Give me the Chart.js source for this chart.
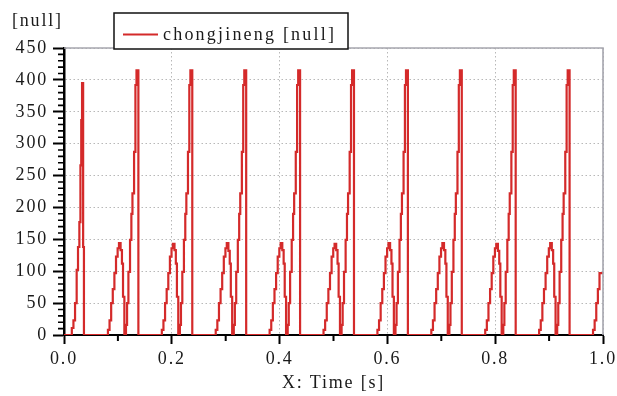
<!DOCTYPE html>
<html>
<head>
<meta charset="utf-8">
<script src="https://cdn.jsdelivr.net/npm/chart.js@4.4.0/dist/chart.umd.min.js"></script>
<style>
  html, body { margin: 0; padding: 0; background: #fff; }
</style>
</head>
<body>
<canvas id="myChart" width="617" height="396"></canvas>
<script>
// time axis [s]
const timeS = [
  0, 0.0145, 0.0175, 0.0205, 0.0235, 0.026, 0.0285, 0.0305, 0.032, 0.0335, 0.0355, 0.037,
  0.0815, 0.0845, 0.0875, 0.0905, 0.0935, 0.0965, 0.0995, 0.102, 0.105, 0.1075, 0.1095, 0.112,
  0.115, 0.117, 0.1195, 0.1225, 0.125, 0.127, 0.13, 0.1325, 0.1345, 0.138,
  0.1815, 0.1845, 0.1875, 0.1905, 0.1935, 0.1965, 0.1995, 0.202, 0.205, 0.2075, 0.2095, 0.212,
  0.215, 0.217, 0.2195, 0.2225, 0.225, 0.227, 0.23, 0.2325, 0.2345, 0.238,
  0.2815, 0.2845, 0.2875, 0.2905, 0.2935, 0.2965, 0.2995, 0.302, 0.305, 0.3075, 0.3095, 0.312,
  0.315, 0.317, 0.3195, 0.3225, 0.325, 0.327, 0.33, 0.3325, 0.3345, 0.338,
  0.3815, 0.3845, 0.3875, 0.3905, 0.3935, 0.3965, 0.3995, 0.402, 0.405, 0.4075, 0.4095, 0.412,
  0.415, 0.417, 0.4195, 0.4225, 0.425, 0.427, 0.43, 0.4325, 0.4345, 0.438,
  0.4815, 0.4845, 0.4875, 0.4905, 0.4935, 0.4965, 0.4995, 0.502, 0.505, 0.5075, 0.5095, 0.512,
  0.515, 0.517, 0.5195, 0.5225, 0.525, 0.527, 0.53, 0.5325, 0.5345, 0.538,
  0.5815, 0.5845, 0.5875, 0.5905, 0.5935, 0.5965, 0.5995, 0.602, 0.605, 0.6075, 0.6095, 0.612,
  0.615, 0.617, 0.6195, 0.6225, 0.625, 0.627, 0.63, 0.6325, 0.6345, 0.638,
  0.6815, 0.6845, 0.6875, 0.6905, 0.6935, 0.6965, 0.6995, 0.702, 0.705, 0.7075, 0.7095, 0.712,
  0.715, 0.717, 0.7195, 0.7225, 0.725, 0.727, 0.73, 0.7325, 0.7345, 0.738,
  0.7815, 0.7845, 0.7875, 0.7905, 0.7935, 0.7965, 0.7995, 0.802, 0.805, 0.8075, 0.8095, 0.812,
  0.815, 0.817, 0.8195, 0.8225, 0.825, 0.827, 0.83, 0.8325, 0.8345, 0.838,
  0.8815, 0.8845, 0.8875, 0.8905, 0.8935, 0.8965, 0.8995, 0.902, 0.905, 0.9075, 0.9095, 0.912,
  0.915, 0.917, 0.9195, 0.9225, 0.925, 0.927, 0.93, 0.9325, 0.9345, 0.938,
  0.9815, 0.9845, 0.9875, 0.9905, 0.9935, 1.0
];

// chongjineng [null]
const chongjineng = [
  0, 11, 23, 50, 102, 138, 177, 266, 337, 395, 138, 0,
  8, 23, 50, 72, 97, 123, 136, 144, 133, 112, 60, 0,
  16, 50, 99, 149, 190, 222, 287, 392, 415, 0,
  8, 23, 50, 72, 97, 123, 136, 143, 133, 112, 60, 0,
  16, 50, 99, 149, 190, 222, 287, 392, 415, 0,
  8, 23, 50, 72, 97, 123, 136, 144, 132, 112, 60, 0,
  16, 50, 99, 149, 190, 222, 287, 392, 415, 0,
  8, 23, 50, 72, 97, 123, 136, 144, 133, 112, 60, 0,
  16, 50, 99, 149, 190, 222, 287, 392, 415, 0,
  8, 23, 50, 72, 97, 123, 136, 143, 133, 112, 60, 0,
  16, 50, 99, 149, 190, 222, 287, 392, 415, 0,
  8, 23, 50, 72, 97, 123, 136, 144, 133, 112, 60, 0,
  16, 50, 99, 149, 190, 222, 287, 392, 415, 0,
  8, 23, 50, 72, 97, 123, 136, 144, 133, 112, 60, 0,
  16, 50, 99, 149, 190, 222, 287, 392, 415, 0,
  8, 23, 50, 72, 97, 123, 136, 143, 132, 112, 60, 0,
  16, 50, 99, 149, 190, 222, 287, 392, 415, 0,
  8, 23, 50, 72, 97, 123, 136, 144, 133, 112, 60, 0,
  16, 50, 99, 149, 190, 222, 287, 392, 415, 0,
  8, 23, 50, 72, 97, 97
];

const seriesName = 'chongjineng [null]';
const yUnit = '[null]';
const xTitle = 'X: Time [s]';
const yMinorStep = 10;
const xMinorTicks = [0.1, 0.3, 0.5, 0.7, 0.9];

const serif = 'Liberation Serif';
const textColor = '#1a1a1a';
const red = '#d42a2a';

const frame = {
  id: 'frame',
  beforeDraw(chart) {
    chart.ctx.letterSpacing = '1.8px';
  },
  afterDatasetsDraw(chart) {
    const {ctx, chartArea: a, scales: {x, y}} = chart;
    ctx.save();
    // top and right border
    ctx.strokeStyle = '#a6a6ae';
    ctx.lineWidth = 1.6;
    ctx.beginPath();
    ctx.moveTo(a.left, a.top);
    ctx.lineTo(a.right, a.top);
    ctx.lineTo(a.right, a.bottom);
    ctx.stroke();
    // minor ticks
    ctx.strokeStyle = '#000';
    ctx.lineWidth = 1.6;
    ctx.beginPath();
    for (let v = yMinorStep; v < 450; v += yMinorStep) {
      if (v % 50 === 0) continue;
      const py = y.getPixelForValue(v);
      ctx.moveTo(a.left - 6, py);
      ctx.lineTo(a.left, py);
    }
    ctx.stroke();
    ctx.lineWidth = 2;
    ctx.beginPath();
    xMinorTicks.forEach(v => {
      const px = x.getPixelForValue(v);
      ctx.moveTo(px, a.bottom);
      ctx.lineTo(px, a.bottom + 6);
    });
    ctx.stroke();
    ctx.restore();
  },
  afterDraw(chart) {
    const ctx = chart.ctx;
    ctx.save();
    ctx.letterSpacing = '1.8px';
    ctx.fillStyle = textColor;
    ctx.font = '18px "' + serif + '"';
    ctx.textBaseline = 'alphabetic';
    ctx.textAlign = 'left';
    ctx.fillText(yUnit, 12, 26);
    // legend box
    ctx.fillStyle = '#fff';
    ctx.fillRect(114, 13, 234, 36);
    ctx.strokeStyle = '#111';
    ctx.lineWidth = 1.5;
    ctx.strokeRect(114, 13, 234, 36);
    ctx.strokeStyle = red;
    ctx.lineWidth = 2;
    ctx.beginPath();
    ctx.moveTo(123, 34.5);
    ctx.lineTo(158, 34.5);
    ctx.stroke();
    ctx.letterSpacing = '2.2px';
    ctx.fillStyle = textColor;
    ctx.fillText(seriesName, 163, 40);
    ctx.restore();
  }
};

const tickFont = {family: serif, size: 18};

new Chart('myChart', {
  type: 'line',
  data: {
    datasets: [{
      label: seriesName,
      data: timeS.map((t, i) => ({x: t, y: chongjineng[i]})),
      borderColor: red,
      backgroundColor: red,
      borderWidth: 2.2,
      pointRadius: 0,
      stepped: 'before',
      fill: false
    }]
  },
  options: {
    responsive: false,
    animation: false,
    events: [],
    layout: {padding: {top: 48, right: 14, left: 0, bottom: 0}},
    plugins: {legend: {display: false}, tooltip: {enabled: false}},
    scales: {
      x: {
        type: 'linear', min: 0, max: 1,
        ticks: {stepSize: 0.2, callback: v => v.toFixed(1), font: tickFont, color: textColor, padding: 4, maxRotation: 0, autoSkip: false},
        grid: {color: '#b8b8b8', lineWidth: 1, tickLength: 9, tickColor: '#000', tickWidth: 2},
        border: {color: '#000', width: 2, dash: [1.5, 2.5]},
        title: {display: true, text: xTitle, font: tickFont, color: textColor, padding: {top: 0, bottom: 2}},
        afterFit(s) { s.height = 61; s.paddingLeft = 0; s.paddingRight = 0; }
      },
      y: {
        min: 0, max: 450,
        ticks: {stepSize: 50, font: tickFont, color: textColor, padding: 5},
        grid: {color: '#b8b8b8', lineWidth: 1, tickLength: 11, tickColor: '#000', tickWidth: 2},
        border: {color: '#000', width: 2.5, dash: [1.5, 2.5]},
        afterFit(s) { s.width = 64; }
      }
    }
  },
  plugins: [frame]
});
</script>
</body>
</html>
